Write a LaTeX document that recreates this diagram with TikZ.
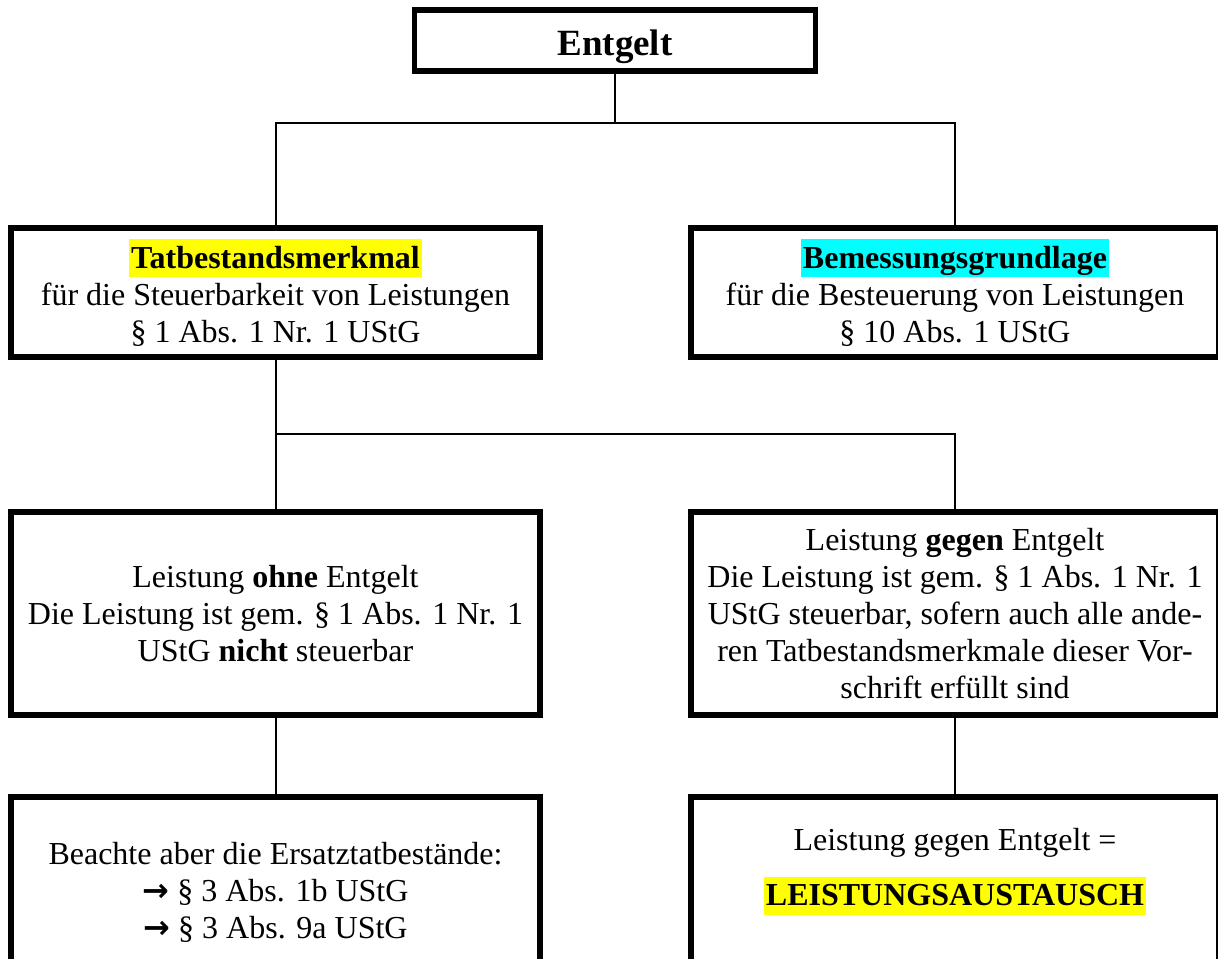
\documentclass[tikz,border=0pt]{standalone}
\usepackage{fontspec}
\setmainfont{Liberation Serif}
\newfontfamily\arrowfont{DejaVu Sans}
\definecolor{hlyellow}{RGB}{255,255,0}
\definecolor{hlcyan}{RGB}{0,255,255}
\newcommand{\hlmark}[2]{{\setlength{\fboxsep}{1pt}\colorbox{#1}{\rule[-3.5pt]{0pt}{17pt}\textbf{#2}}}}
\newcommand{\arrmark}{{\arrowfont\bfseries →}}
\begin{document}
\begin{tikzpicture}[x=0.5pt,y=-0.5pt,
  box/.style={draw, line width=3pt, rectangle, inner sep=0pt, align=center,
              font=\fontsize{16}{18.5}\selectfont},
  conn/.style={line width=1pt},
  txt/.style={inner sep=0pt, align=center, font=\fontsize{16}{18.5}\selectfont}]
\useasboundingbox (0,0) rectangle (1218,958);
\clip (0,0) rectangle (1218,958);
\fill[white] (0,0) rectangle (1218,958);
% top box
\node[box, line width=2.75pt, minimum width=200.5pt, minimum height=30.5pt,
      text height=14.5pt, text depth=0pt,
      font=\fontsize{18.5}{22}\selectfont\bfseries] (top) at (615,40.5) {Entgelt};
% row 2
\node[box, minimum width=264.5pt, minimum height=64.5pt] (L2) at (275.5,292.5)
  {\hlmark{hlyellow}{Tatbestandsmerkmal}\\ für die Steuerbarkeit von Leistungen\\ § 1 Abs. 1 Nr. 1 UStG};
\node[box, minimum width=264pt, minimum height=64.5pt] (R2) at (955,292.5)
  {\hlmark{hlcyan}{Bemessungsgrundlage}\\ für die Besteuerung von Leistungen\\ § 10 Abs. 1 UStG};
% row 3
\node[box, minimum width=264.5pt, minimum height=101.5pt] (L3) at (275.5,613.5)
  {Leistung \textbf{ohne} Entgelt\\ Die Leistung ist gem. § 1 Abs. 1 Nr. 1\\ UStG \textbf{nicht} steuerbar};
\node[box, minimum width=264pt, minimum height=101.5pt] (R3) at (955,613.5)
  {Leistung \textbf{gegen} Entgelt\\ Die Leistung ist gem. § 1 Abs. 1 Nr. 1\\ UStG steuerbar, sofern auch alle ande-\\ ren Tatbestandsmerkmale dieser Vor-\\ schrift erfüllt sind};
% row 4
\node[box, minimum width=264.5pt, minimum height=100pt] (L4) at (275.5,897) {};
\node[box, minimum width=264pt, minimum height=100pt] (R4) at (955,897) {};
\node[txt, anchor=north] (L4t) at (275.5,842)
  {Beachte aber die Ersatztatbestände:\\ \arrmark\ § 3 Abs. 1b UStG\\ \arrmark\ § 3 Abs. 9a UStG};
\node[txt, anchor=north] (R4t) at (955,828)
  {Leistung gegen Entgelt =\\[9pt] \hlmark{hlyellow}{LEISTUNGSAUSTAUSCH}};
% connectors
\coordinate (j1) at (615,123);
\coordinate (j2) at (275.5,434);
\draw[conn] (top.south) -- (j1);
\draw[conn] (L2.north) |- (j1) -| (R2.north);
\draw[conn] (L2.south) -- (L3.north);
\draw[conn] (j2) -| (R3.north);
\draw[conn] (L3.south) -- (L4.north);
\draw[conn] (R3.south) -- (R4.north);
\end{tikzpicture}
\end{document}
